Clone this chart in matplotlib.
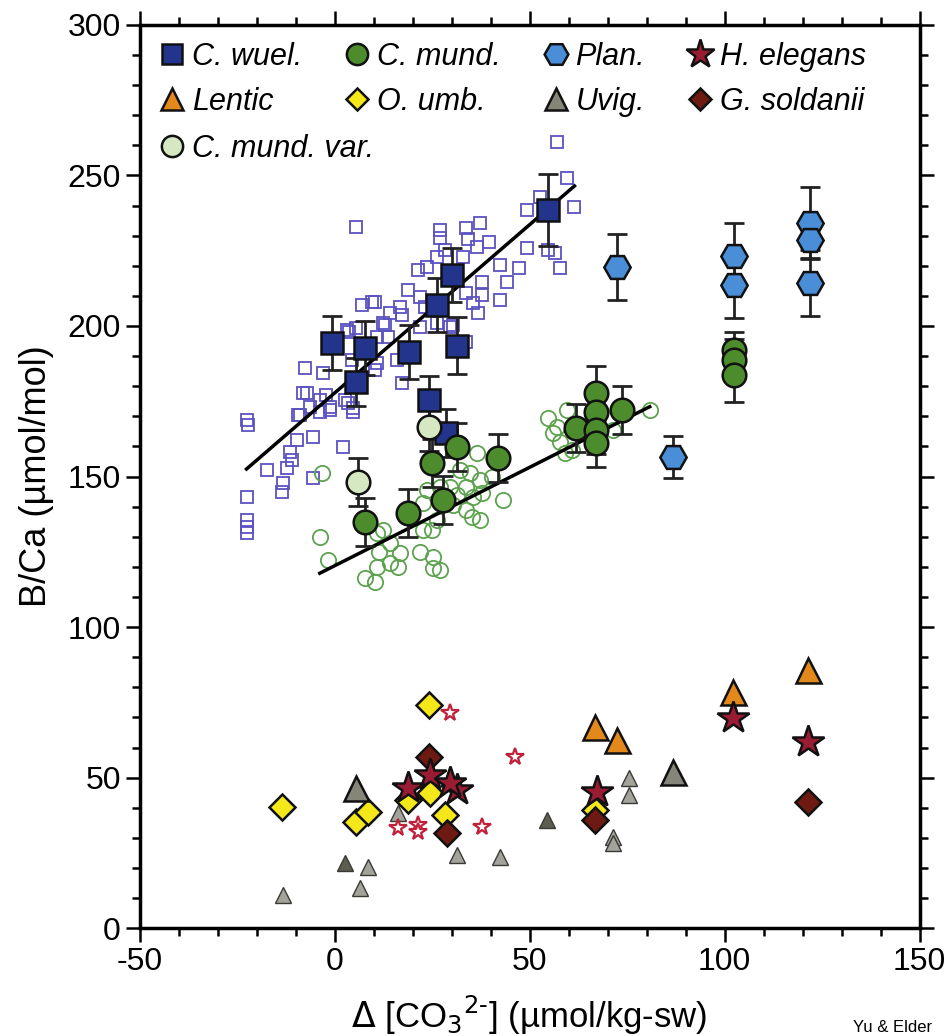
import matplotlib
matplotlib.use("Agg")
import matplotlib.pyplot as plt
from matplotlib.ticker import MultipleLocator

plt.rcParams['font.family'] = ['Liberation Sans Narrow', 'Liberation Sans', 'DejaVu Sans']
plt.rcParams['axes.unicode_minus'] = False

# ---- core-top (small open) data ----
cw_small_x = [5.6, 59.5, 61.5, 49.2, 52.6, 37.2, 33.8, 26.9, 26.9, 34.1, 39.7, 36.4, 49.2, 54.6,
              56.4, 57.7, 47.4, 42.3, 42.3, 44.1, 37.7, 37.7, 33.8, 35.4, 36.7, 32.8, 28.2, 26.2,
              23.6, 21.3, 18.7, 21.8, 23.1, 16.7, 10.3, 6.9, 14.1, 3.8, 12.8, 10.8, 26.2, 30.3,
              33.8, 56.9, -7.7, -3.1, -8.2, -6.4, -9.5, -3.8, -1.3, 3.3, 4.6, 10.8, 10.3, 4.4,
              15.9, 17.2, 3.1, 5.6, 9.7, 17.2, 12.3, 13.6, 21.8, 29.5, -22.6, -22.3, -22.6, -22.6,
              -22.6, -22.6, -17.4, -13.6, -13.3, -12.3, -11.5, -11.0, -9.7, -5.6, -5.6, -9.0, -7.2,
              -2.1, -3.8, 2.1, 2.6, 4.6, -1.3]
cw_small_y = [232.9, 249.0, 239.5, 238.5, 242.9, 234.2, 232.6, 231.9, 229.2, 228.9, 227.9, 226.2,
              225.9, 225.2, 224.3, 219.3, 219.3, 220.3, 208.6, 214.6, 214.6, 210.3, 211.0, 207.6,
              204.3, 222.9, 225.2, 222.9, 219.6, 218.6, 212.0, 209.6, 206.3, 206.3, 208.0, 207.0,
              204.3, 198.0, 200.3, 196.3, 201.0, 200.3, 194.7, 261.0, 186.0, 184.4, 177.7, 173.0,
              170.4, 175.4, 173.0, 174.4, 171.4, 187.7, 185.4, 188.7, 188.7, 181.1, 198.7, 199.3,
              208.0, 203.7, 201.0, 196.3, 199.7, 199.7, 168.8, 167.1, 143.2, 135.5, 133.2, 131.2,
              152.2, 144.9, 147.8, 152.8, 158.1, 155.5, 162.1, 149.5, 163.1, 170.4, 177.7, 177.1,
              171.4, 159.8, 175.4, 172.8, 172.1]

cm_small_x = [-3.8, -1.8, -3.3, 7.7, 10.3, 10.8, 11.5, 14.1, 16.7, 16.2, 12.3, 21.8, 25.1, 25.1,
              22.6, 24.9, 26.2, 23.6, 22.6, 26.9, 29.5, 31.3, 30.3, 33.8, 35.4, 33.8, 35.1, 37.2,
              37.9, 37.2, 36.4, 40.3, 43.1, 34.6, 32.1, 10.8, 14.1, 26.9, 54.6, 56.9, 55.9, 57.7,
              59.0, 60.8, 71.3, 80.8, 59.5]
cm_small_y = [129.9, 122.3, 151.2, 116.3, 115.0, 119.9, 124.9, 127.9, 124.6, 119.9, 132.2, 124.9,
              123.3, 119.6, 132.2, 132.2, 135.5, 145.5, 141.2, 146.5, 146.5, 143.9, 140.5, 146.5,
              143.2, 138.9, 136.5, 135.5, 144.5, 148.8, 157.8, 149.8, 142.2, 151.2, 152.2, 131.2,
              121.3, 118.9, 169.4, 166.4, 164.4, 161.5, 157.8, 158.8, 165.4, 172.1, 172.1]

he_small_x = [29.5, 46.2, 16.2, 21.3, 21.3, 37.9]
he_small_y = [71.4, 56.8, 33.2, 34.2, 31.9, 33.6]

uv_small_x = [-13.3, 2.6, 8.5, 6.4, 16.2, 31.5, 42.3, 54.4, 75.6, 75.6, 71.3, 71.3]
uv_small_y = [11.0, 21.6, 20.3, 13.3, 38.2, 24.3, 23.6, 35.9, 49.8, 44.2, 30.2, 28.2]
uv_small_dark = [False, True, False, False, False, False, False, True, False, False, False, False]

# ---- species means ----
cw_x = [-0.8, 5.6, 7.9, 19.0, 26.2, 30.0, 31.3, 54.6, 24.1, 28.5]
cw_y = [194.4, 181.4, 192.7, 191.4, 207.0, 217.0, 193.4, 238.5, 175.4, 164.5]
cw_err = [9, 8, 9, 9, 9, 9, 9.5, 12, 8, 8]

cm_x = [31.5, 24.9, 41.8, 27.7, 18.7, 7.9, 62.0, 66.9, 66.9, 66.9, 66.9, 73.8, 102.3, 102.3, 102.3]
cm_y = [159.8, 154.5, 156.1, 142.2, 137.9, 134.9, 166.1, 177.7, 171.4, 165.4, 161.1, 172.1,
        192.0, 188.7, 183.7]
cm_err = [8, 8, 8, 8, 8, 8, 8, 9, 8, 8, 8, 8, 6, 7, 9]

cmv_x = [24.1, 5.9]
cmv_y = [166.4, 148.2]
cmv_err = [8, 8]

pl_x = [72.3, 102.3, 102.3, 121.8, 121.8, 121.8, 86.7]
pl_y = [219.6, 223.3, 213.6, 234.2, 228.6, 214.3, 156.5]
pl_err = [11, 11, 11, 12, 6, 11, 7]

he_x = [24.4, 18.7, 31.5, 29.5, 67.2, 102.1, 121.5]
he_y = [50.8, 46.5, 45.8, 48.2, 45.2, 69.8, 61.8]

le_x = [66.7, 72.3, 102.1, 121.3]
le_y = [66.8, 62.5, 78.4, 85.7]

ou_x = [-13.6, 5.6, 8.5, 24.1, 24.4, 28.2, 18.7, 66.7]
ou_y = [40.2, 35.2, 38.5, 74.1, 44.9, 37.5, 42.5, 39.2]

uv_x = [5.6, 86.7]
uv_y = [46.5, 51.8]

gs_x = [24.1, 28.7, 66.7, 121.5]
gs_y = [56.8, 31.6, 35.9, 41.9]

# regression line end points
cw_line_x = [-22.6, 61.5]
cw_line_y = [152.5, 246.5]
cm_line_x = [-3.8, 80.8]
cm_line_y = [117.9, 173.2]

fig = plt.figure(figsize=(9.5, 10.36), dpi=100)
ax = fig.add_axes([0.147, 0.104, 0.821, 0.872])

# background core-top data
ax.plot(cw_small_x, cw_small_y, 's', ms=8, mfc='none', mec='#5a52c0', mew=1.3, zorder=2)
ax.plot(cm_small_x, cm_small_y, 'o', ms=11, mfc='none', mec='#5da24f', mew=1.3, zorder=2)
ax.plot(he_small_x, he_small_y, '*', ms=13, mfc='white', mec='#c0203a', mew=1.6, zorder=5)
for x, y, d in zip(uv_small_x, uv_small_y, uv_small_dark):
    ax.plot(x, y, '^', ms=11, mfc='#5e5e50' if d else '#a3a39b', mec='#3a3a35', mew=1.0, zorder=4)

ax.plot(cw_line_x, cw_line_y, '-', color='black', lw=2.5, zorder=3)
ax.plot(cm_line_x, cm_line_y, '-', color='black', lw=2.5, zorder=3)

eb = dict(fmt='none', ecolor='#222222', elinewidth=2, capsize=7, capthick=2, zorder=6)
ax.errorbar(cw_x, cw_y, yerr=cw_err, **eb)
ax.errorbar(cm_x, cm_y, yerr=cm_err, **eb)
ax.errorbar(cmv_x, cmv_y, yerr=cmv_err, **eb)
ax.errorbar(pl_x, pl_y, yerr=pl_err, **eb)

mk = dict(ls='none', mec='#111111', mew=1.8, zorder=7)
h_cw, = ax.plot(cw_x, cw_y, 's', ms=16, mfc='#22348c', label='C. wuel.', **mk)
h_cm, = ax.plot(cm_x, cm_y, 'o', ms=17, mfc='#4c8c2c', label='C. mund.', **mk)
h_cmv, = ax.plot(cmv_x, cmv_y, 'o', ms=17, mfc='#d6e8c2', label='C. mund. var.', **mk)
h_pl, = ax.plot(pl_x, pl_y, 'H', ms=19, mfc='#4a8ed8', label='Plan.', **mk)
h_ou, = ax.plot(ou_x, ou_y, 'D', ms=13, mfc='#f4e81a', label='O. umb.', **mk)
h_uv, = ax.plot(uv_x, uv_y, '^', ms=18, mfc='#85857a', label='Uvig.', **mk)
h_le, = ax.plot(le_x, le_y, '^', ms=18, mfc='#e3891c', label='Lentic', **mk)
h_gs, = ax.plot(gs_x, gs_y, 'D', ms=13, mfc='#6c1a12', label='G. soldanii', **mk)
h_he, = ax.plot(he_x, he_y, '*', ms=24, mfc='#9a1c33', label='H. elegans', **mk)

ax.set_xlim(-50, 150)
ax.set_ylim(0, 300)
ax.xaxis.set_major_locator(MultipleLocator(50))
ax.xaxis.set_minor_locator(MultipleLocator(10))
ax.yaxis.set_major_locator(MultipleLocator(50))
ax.yaxis.set_minor_locator(MultipleLocator(10))
ax.tick_params(which='both', direction='out', top=True, right=True, width=1.8, labelsize=23)
ax.tick_params(which='major', length=10)
ax.tick_params(which='minor', length=6)
for s in ax.spines.values():
    s.set_linewidth(2.5)

ax.set_xlabel(r'$\Delta$ [CO$_3$$^{2\text{-}}$] (µmol/kg-sw)', fontsize=25, labelpad=12)
ax.set_ylabel('B/Ca (µmol/mol)', fontsize=26, labelpad=10)

leg_kw = dict(frameon=False, prop={'style': 'italic', 'size': 22}, handletextpad=0.15,
              columnspacing=1.3, labelspacing=0.5, borderaxespad=0.15,
              handlelength=1.0, markerscale=0.9)
handles = [h_cw, h_le, h_cm, h_ou, h_pl, h_uv, h_he, h_gs]
leg = ax.legend(handles=handles, loc='upper left', ncol=4, bbox_to_anchor=(0, 1), **leg_kw)
ax.add_artist(leg)
ax.legend(handles=[h_cmv], loc='upper left', bbox_to_anchor=(0, 1 - 92 / 903), **leg_kw)

fig.text(0.898, 0.004, 'Yu & Elder', fontsize=12)

fig.savefig('out.png', dpi=100)
